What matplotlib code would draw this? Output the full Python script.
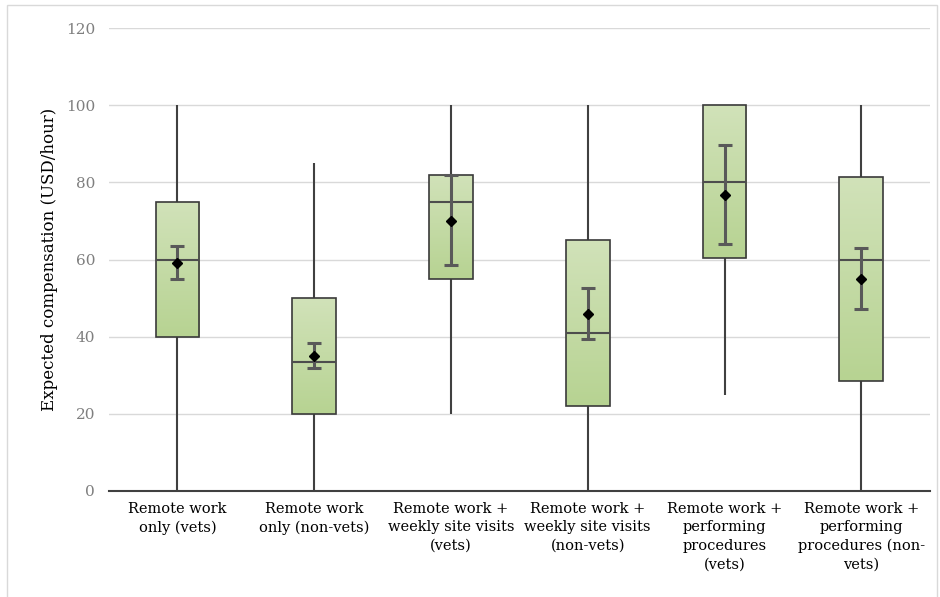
import numpy as np
import matplotlib.pyplot as plt
from matplotlib.patches import Rectangle
from matplotlib.colors import LinearSegmentedColormap

# Box plot data (USD/hour)
categories = [
    "Remote work\nonly (vets)",
    "Remote work\nonly (non-vets)",
    "Remote work +\nweekly site visits\n(vets)",
    "Remote work +\nweekly site visits\n(non-vets)",
    "Remote work +\nperforming\nprocedures\n(vets)",
    "Remote work +\nperforming\nprocedures (non-\nvets)",
]
whisker_low = [0, 0, 20, 0, 25, 0]
whisker_high = [100, 85, 100, 100, 100, 100]
q1 = [40, 20, 55, 22, 60.5, 28.5]
q3 = [75, 50, 82, 65, 100, 81.5]
medians = [60, 33.5, 75, 41, 80, 60]
means = [59, 35, 70, 46, 76.7, 55]
ci_low = [55, 31.8, 58.5, 39.3, 64, 47.1]
ci_high = [63.5, 38.3, 82, 52.5, 89.6, 63.1]

plt.rcParams['font.family'] = ['DejaVu Serif']

fig = plt.figure(figsize=(9.4, 5.97), dpi=100)
ax = fig.add_axes([0.116, 0.1776, 0.873, 0.7754])

# light border around the chart area
fig.patches.append(Rectangle((0.007, -0.01), 0.99, 1.002, transform=fig.transFigure,
                             fill=False, edgecolor="#d9d9d9", linewidth=1))

x = np.arange(len(categories))
width = 0.32

ax.vlines(x, whisker_low, whisker_high, color="#404040", linewidth=1.5, zorder=2)

heights = np.array(q3) - np.array(q1)
bars = ax.bar(x, heights, bottom=q1, width=width, color="none",
              edgecolor="#3a3a3a", linewidth=1.2, zorder=4)

# vertical gradient fill inside each box
grad = np.linspace(0, 1, 100).reshape(-1, 1)
cmap = LinearSegmentedColormap.from_list("g", ["#b7d392", "#d1e2b9"])
for b in bars:
    x0, y0 = b.get_x(), b.get_y()
    im = ax.imshow(grad, cmap=cmap, aspect="auto", origin="lower",
                   extent=[x0, x0 + b.get_width(), y0, y0 + b.get_height()], zorder=3)
    im.set_clip_path(b)

ax.hlines(medians, x - width / 2, x + width / 2, color="#4d4d4d", linewidth=1.5, zorder=5)

ax.errorbar(x, means, yerr=[np.array(means) - np.array(ci_low), np.array(ci_high) - np.array(means)],
            fmt="D", color="black", markersize=5.5, ecolor="#595959", elinewidth=2.2,
            capsize=5, capthick=2.2, zorder=6)

ax.set_xlim(-0.5, len(categories) - 0.5)
ax.set_ylim(0, 120)
ax.set_yticks(range(0, 121, 20))
ax.set_xticks(x)
ax.set_xticklabels(categories, fontsize=10.5, linespacing=1.4)
ax.tick_params(axis="x", length=0, pad=8)
ax.tick_params(axis="y", length=0, pad=10, labelsize=11, labelcolor="#7f7f7f")
ax.yaxis.grid(True, color="#d9d9d9", linewidth=1)
ax.set_axisbelow(True)
for s in ["top", "right", "left"]:
    ax.spines[s].set_visible(False)
ax.spines["bottom"].set_color("#404040")
ax.spines["bottom"].set_linewidth(1.5)
ax.set_ylabel("Expected compensation (USD/hour)", fontsize=12, labelpad=6)

fig.savefig("out.png", dpi=100)
